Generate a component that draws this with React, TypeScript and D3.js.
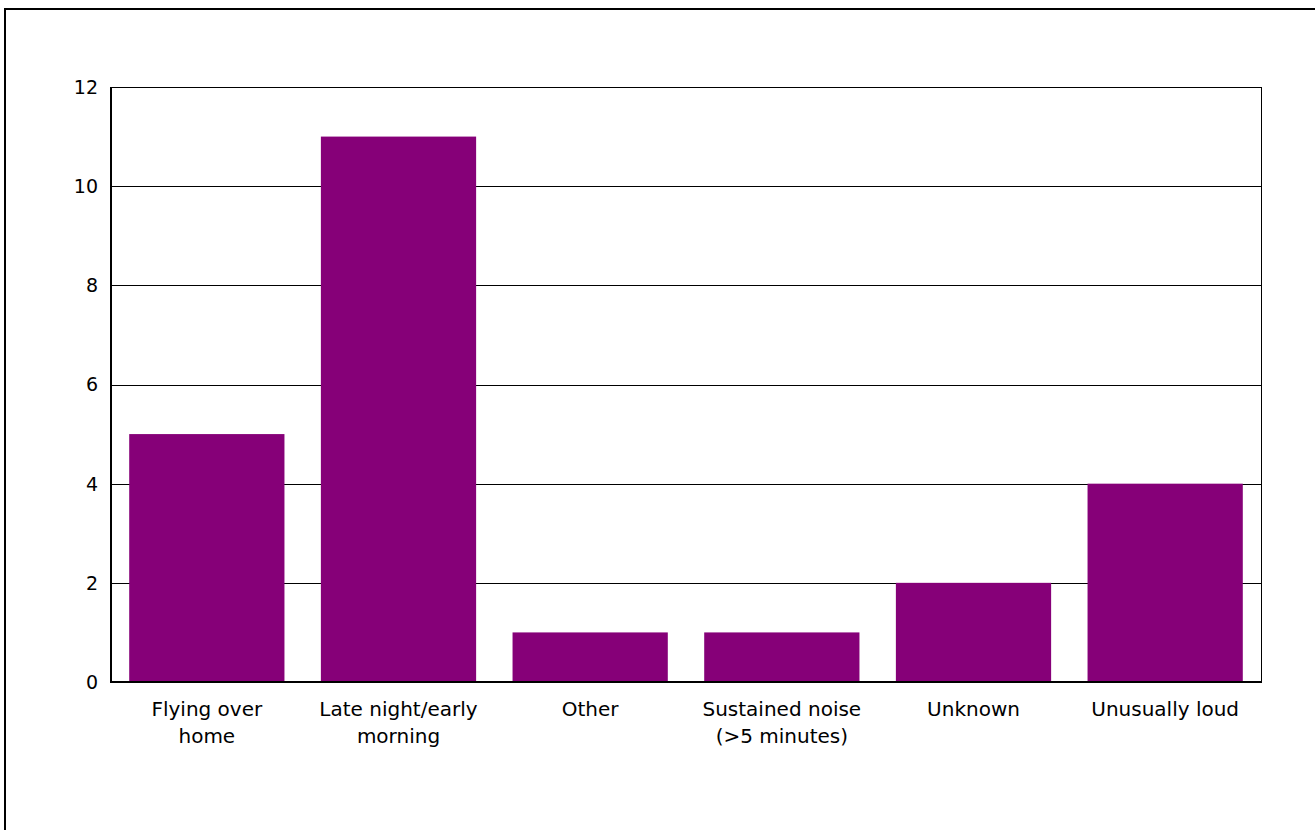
import React from "react";
import * as d3 from "d3";

const categories: string[][] = [
  ["Flying over", "home"],
  ["Late night/early", "morning"],
  ["Other"],
  ["Sustained noise", "(>5 minutes)"],
  ["Unknown"],
  ["Unusually loud"],
];
const values: number[] = [5, 11, 1, 1, 2, 4];
const yTicks: number[] = [0, 2, 4, 6, 8, 10, 12];

const W = 1315;
const H = 830;
const plot = { left: 111, top: 87, right: 1261, bottom: 682 };
const FONT = "'DejaVu Sans', sans-serif";
const BAR = "#860078";

export default function App() {
  const keys = categories.map((c) => c.join(" "));
  const x = d3
    .scaleBand<string>()
    .domain(keys)
    .range([plot.left, plot.right])
    .paddingInner(0.19)
    .paddingOuter(0.095);
  const y = d3.scaleLinear().domain([0, 12]).range([plot.bottom, plot.top]);

  return (
    <svg
      width={W}
      height={H}
      style={{ position: "absolute", left: 0, top: 0, background: "#fff" }}
    >
      <rect x={5} y={9} width={1400} height={900} fill="#fff" stroke="#000" strokeWidth={2} />
      {yTicks.map((t) => (
        <g key={t}>
          <line
            x1={plot.left}
            x2={plot.right}
            y1={Math.round(y(t)) + 0.5}
            y2={Math.round(y(t)) + 0.5}
            stroke="#000"
            strokeWidth={1}
          />
          <text
            x={plot.left - 13}
            y={y(t)}
            dy="0.36em"
            textAnchor="end"
            fontFamily={FONT}
            fontSize={19}
            fill="#000"
          >
            {t}
          </text>
        </g>
      ))}
      <line x1={plot.right + 0.5} x2={plot.right + 0.5} y1={plot.top} y2={plot.bottom} stroke="#000" strokeWidth={1} />
      {values.map((v, i) => (
        <rect
          key={keys[i]}
          x={x(keys[i])}
          y={y(v)}
          width={x.bandwidth()}
          height={y(0) - y(v)}
          fill={BAR}
        />
      ))}
      <line x1={plot.left} x2={plot.left} y1={plot.top} y2={plot.bottom + 1} stroke="#000" strokeWidth={2} />
      <line x1={plot.left} x2={plot.right + 1} y1={plot.bottom} y2={plot.bottom} stroke="#000" strokeWidth={2} />
      {categories.map((lines, i) => (
        <text
          key={keys[i]}
          x={(x(keys[i]) as number) + x.bandwidth() / 2}
          y={716}
          textAnchor="middle"
          fontFamily={FONT}
          fontSize={20}
          fill="#000"
        >
          {lines.map((l, j) => (
            <tspan key={j} x={(x(keys[i]) as number) + x.bandwidth() / 2} dy={j === 0 ? 0 : 27}>
              {l}
            </tspan>
          ))}
        </text>
      ))}
    </svg>
  );
}
